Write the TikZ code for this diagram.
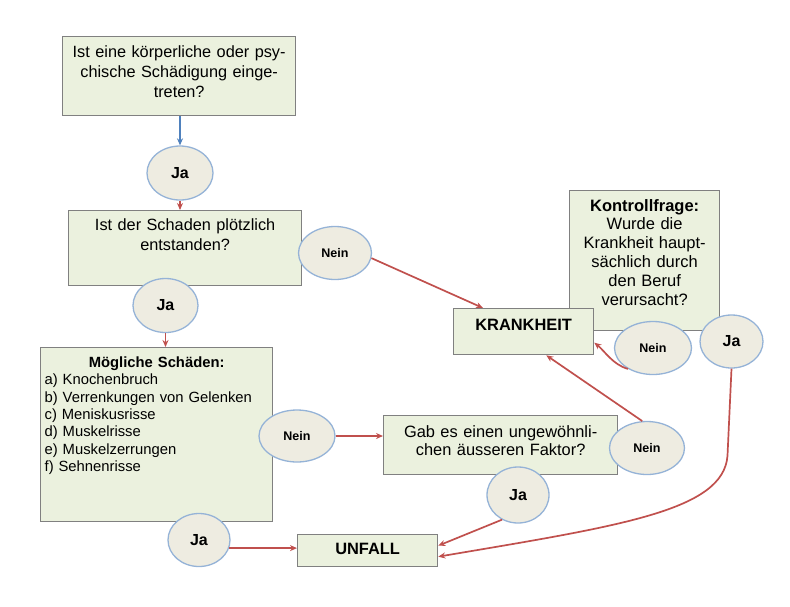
\documentclass[tikz,border=0pt]{standalone}
\usepackage{fontspec}
\setmainfont{Liberation Sans}
\usepackage{tikz}
\usetikzlibrary{positioning}
\usetikzlibrary{shapes,arrows,calc,arrows.meta}

\definecolor{boxfill}{HTML}{EBF1DE}
\definecolor{boxline}{HTML}{808080}
\definecolor{ovalfill}{HTML}{EEECE1}
\definecolor{ovalline}{HTML}{95B3D7}
\definecolor{redline}{HTML}{C0504D}
\definecolor{blueline}{HTML}{4F81BD}

\begin{document}
\begin{tikzpicture}[x=1pt, y=-1pt,
    box/.style={draw=boxline, fill=boxfill, line width=1.3pt, inner sep=4pt,
      anchor=north west, align=center, font=\fontsize{16.3}{20}\selectfont},
    oval/.style={ellipse, draw=ovalline, fill=ovalfill, line width=1.3pt,
      inner sep=0pt, font=\bfseries\fontsize{16}{18}\selectfont},
    neinoval/.style={oval, font=\bfseries\fontsize{12.5}{14}\selectfont},
    link/.style={draw=redline, line width=1.7pt, -{Stealth[length=7pt,width=6pt]}}]
    \useasboundingbox (0,0) rectangle (790,606);
    % Nodes
    \node [box, text width=225pt, text height=16.6pt, text depth=54.4pt] (q1) at (62,36)
      {Ist eine körperliche oder psy-\\chische Schädigung einge-\\treten?};
    \node [box, text width=225pt, text height=16pt, text depth=51pt] (q2) at (68,210)
      {Ist der Schaden plötzlich\\entstanden?};
    \node [box, text width=224pt, text height=16pt, text depth=150pt, align=left,
      font=\fontsize{14.8}{17.3}\selectfont] (list) at (40,347)
      {\makebox[\linewidth]{\bfseries Mögliche Schäden:}\\
       a) Knochenbruch\\b) Verrenkungen von Gelenken\\c) Meniskusrisse\\
       d) Muskelrisse\\e) Muskelzerrungen\\f) Sehnenrisse};
    \node [box, text width=226pt, text height=17.6pt, text depth=33.4pt,
      font=\fontsize{16.4}{18.3}\selectfont] (q3) at (383,415)
      {Gab es einen ungewöhnli-\\chen äusseren Faktor?};
    \node [box, text width=142pt, text height=16.5pt, text depth=115.5pt,
      font=\fontsize{16.5}{18.8}\selectfont] (check) at (569,190)
      {\textbf{Kontrollfrage:}\\Wurde die\\Krankheit haupt-\\sächlich durch\\den Beruf\\verursacht?};
    \node [box, text width=132pt, text height=18pt, text depth=20pt,
      font=\bfseries\fontsize{16.4}{20}\selectfont] (krank) at (453,308) {KRANKHEIT};
    \node [box, text width=132pt, text height=16pt, text depth=8pt,
      font=\bfseries\fontsize{16.4}{20}\selectfont] (unfall) at (297,534) {UNFALL};

    \node [oval, minimum width=66pt, minimum height=54pt] (ja1) at (180,173) {Ja};
    \node [neinoval, minimum width=73pt, minimum height=53pt] (nein1) at (335,253) {Nein};
    \node [oval, minimum width=65pt, minimum height=54pt] (ja2) at (165.5,305.5) {Ja};
    \node [neinoval, minimum width=76pt, minimum height=52pt] (nein2) at (297,436) {Nein};
    \node [oval, minimum width=62pt, minimum height=53pt] (ja3) at (199,540) {Ja};
    \node [neinoval, minimum width=75pt, minimum height=53pt] (nein3) at (647,448) {Nein};
    \node [oval, minimum width=62pt, minimum height=56pt] (ja4) at (518,495) {Ja};
    \node [neinoval, minimum width=77pt, minimum height=53pt] (nein4) at (653,348) {Nein};
    \node [oval, minimum width=63pt, minimum height=53pt] (ja5) at (731.5,341.5) {Ja};
    % Arrows
    \draw [link, draw=blueline] (ja1 |- q1.south) -- (ja1.north);
    \draw [link] (ja1.south) -- (ja1.south |- q2.north);
    \draw [link] (ja2.south) -- (ja2.south |- list.north);
    \draw [link] (nein1.-8) -- ([xshift=30pt]krank.north west);
    \draw [link] (nein2.east) -- (nein2.east -| q3.west);
    \draw [link] (nein3.100) -- ([xshift=-48pt]krank.south east);
    \draw [link] (nein4.220) .. controls +(-15,-4) and +(10,8) .. ([yshift=-11pt]krank.east);
    \draw [link] (ja3.-15) -- (ja3.-15 -| unfall.west);
    \draw [link] (ja4.237) -- ([yshift=5pt]unfall.east);
    \draw [link] (ja5.south) -- ++(-4,87)
      .. controls +(-4,55) and +(183,-31) .. ([yshift=-6pt]unfall.east);
  \end{tikzpicture}
\end{document}
